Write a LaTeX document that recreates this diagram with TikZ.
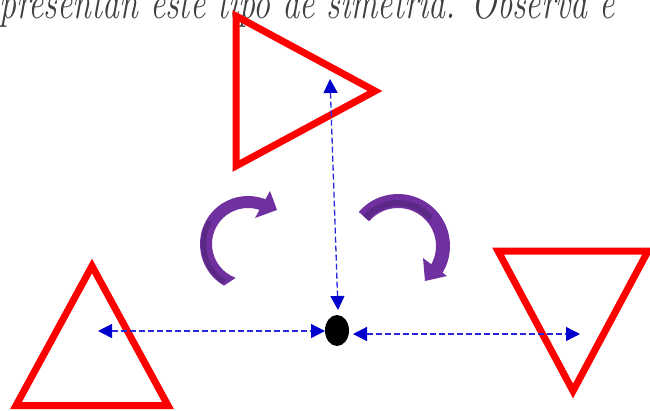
\documentclass[tikz,border=0pt]{standalone}
\usetikzlibrary{arrows.meta,shapes.geometric,calc}
\definecolor{tri}{RGB}{255,0,0}
\definecolor{guide}{RGB}{0,0,204}
\definecolor{guidelinecol}{RGB}{40,40,220}
\definecolor{purp}{RGB}{112,48,160}
\definecolor{purpdark}{RGB}{92,40,135}
\definecolor{txt}{RGB}{64,64,64}
\tikzset{
  redtri/.style={draw=tri, line width=7pt, miter limit=10, line join=miter},
  guideline/.style={draw=guidelinecol, line width=1.3pt, dash pattern=on 6pt off 3pt,
    {Triangle[length=14pt,width=14pt,color=guide]}-{Triangle[length=14pt,width=14pt,color=guide]}},
  turnarrow/.style={fill=purp},
}
\begin{document}
\begin{tikzpicture}[x=1pt,y=1pt]
\useasboundingbox (0,0) rectangle (650,-410);
\clip (0,0) rectangle (650,-410);
% heading text (cut at the top, as in the reference)
\node[anchor=base west, inner sep=0, text=txt, transform shape, yscale=1.35,
      font=\fontsize{34}{40}\selectfont\itshape] (head) at (-1,-18) {presentan este tipo de simetría. Observa e};
% triangles
\draw[redtri] (236,-16) -- (236,-166) -- (375,-91) -- cycle;
\draw[redtri] (92,-266) -- (16,-405.5) -- (168,-405.5) -- cycle;
\draw[redtri] (498,-251) -- (648,-251) -- (573,-391) -- cycle;
% centre point
\node[ellipse, fill=black, minimum width=24pt, minimum height=31pt, inner sep=0] (dot) at (337,-330.5) {};
% guide coordinates
\coordinate (topend) at (330,-79);
\coordinate (vbot) at (338,-310);
\coordinate (lend) at (98,-331);
\coordinate (lin) at (325,-331);
\coordinate (rin) at (353,-334);
\coordinate (rend) at (580,-334);
\draw[guideline] (topend) -- (vbot);
\draw[guideline] (lend) -- (lin);
\draw[guideline] (rin) -- (rend);
% curved arrows
\coordinate (LC) at (248,-244);
\fill[turnarrow] ($(LC)+(240:48)$) arc[start angle=240, end angle=68, radius=48pt]
  -- ($(LC)+(68:36)$) arc[start angle=68, end angle=250, radius=36pt] -- cycle;
\fill[purpdark] ($(LC)+(238:47)$) arc[start angle=238, end angle=150, radius=47pt]
  -- ($(LC)+(150:42)$) arc[start angle=150, end angle=238, radius=42pt] -- cycle;
\fill[turnarrow] (270,-191) -- (277,-210) -- (255,-218) -- cycle;
\coordinate (RC) at (398,-246);
\fill[turnarrow] ($(RC)+(139:52)$) arc[start angle=139, end angle=-32, radius=52pt]
  -- ($(RC)+(-32:38)$) arc[start angle=-32, end angle=139.4, radius=38pt] -- cycle;
\fill[purpdark] ($(RC)+(139:46)$) arc[start angle=139, end angle=40, radius=46pt]
  -- ($(RC)+(40:40)$) arc[start angle=40, end angle=139, radius=40pt] -- cycle;
\fill[turnarrow] (423,-258) -- (447,-276) -- (425,-281) -- cycle;
\end{tikzpicture}
\end{document}
